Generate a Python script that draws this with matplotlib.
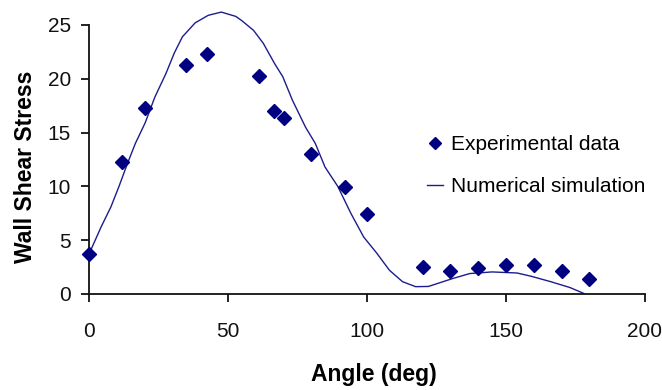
import matplotlib
matplotlib.use("Agg")
import matplotlib.pyplot as plt

plt.rcParams['font.family'] = ['Liberation Sans', 'DejaVu Sans']

# experimental points (angle in deg, wall shear stress)
exp_angle = [0, 12, 20, 35, 42.5, 61, 66.5, 70, 80, 92, 100, 120, 130, 140, 150, 160, 170, 180]
exp_wss = [3.7, 12.3, 17.3, 21.3, 22.3, 20.3, 17.0, 16.4, 13.0, 9.9, 7.4, 2.5, 2.1, 2.4, 2.7, 2.7, 2.1, 1.4]

# numerical simulation curve
sim_angle = [0, 4.4, 7.9, 10.8, 13.8, 16.7, 20.2, 23.7, 27.7, 30.7, 33.6, 38.2, 42.9, 47.6,
             52.8, 55, 59.2, 62.7, 66.8, 69.7, 73.2, 77.9, 81.4, 84.9, 89.5, 94.2, 98.8,
             103.5, 108.1, 112.8, 117.5, 122.1, 131, 137, 145, 154, 159, 166, 173, 178]
sim_wss = [3.7, 6.25, 8.1, 10.0, 12.1, 14.0, 15.9, 18.3, 20.5, 22.4, 23.9, 25.2, 25.9, 26.2,
           25.8, 25.4, 24.5, 23.3, 21.4, 20.2, 18.0, 15.5, 14.0, 11.8, 10.0, 7.5, 5.3,
           3.8, 2.2, 1.14, 0.68, 0.7, 1.45, 1.9, 2.05, 1.95, 1.65, 1.15, 0.6, 0.05]

x_ticks = [0, 50, 100, 150, 200]
y_ticks = [0, 5, 10, 15, 20, 25]

navy = '#000080'

fig = plt.figure(figsize=(6.62, 3.90), dpi=100)
ax = fig.add_axes([0.1344, 0.2462, 0.8399, 0.6897])

ax.plot(exp_angle, exp_wss, linestyle='none', marker='D', markersize=6.8,
        color=navy, label='Experimental data', clip_on=False, zorder=3)
ax.plot(sim_angle, sim_wss, color='#1c1c8e', linewidth=1.0,
        label='Numerical simulation', clip_on=False, zorder=2)

ax.set_xlim(0, 200)
ax.set_ylim(0, 25)
ax.set_xticks(x_ticks)
ax.set_yticks(y_ticks)

for side in ['top', 'right']:
    ax.spines[side].set_visible(False)
for side in ['left', 'bottom']:
    ax.spines[side].set_linewidth(1.3)
    ax.spines[side].set_color('#111111')

ax.tick_params(axis='both', direction='out', length=6, width=1.3, labelsize=15, colors='#111111')
ax.tick_params(axis='x', pad=14)
ax.tick_params(axis='y', pad=7)

ax.set_xlabel('Angle (deg)', fontsize=16.5, fontweight='bold', labelpad=17)
ax.set_ylabel('Wall Shear Stress', fontsize=16.5, fontweight='bold')
ax.xaxis.set_label_coords(0.513, -0.255)
ax.yaxis.set_label_coords(-0.094, 0.472)

ax.legend(loc='upper left', bbox_to_anchor=(0.645, 0.654), bbox_transform=fig.transFigure,
          frameon=False, fontsize=15, handlelength=0.75, handletextpad=0.4,
          labelspacing=1.1, markerscale=0.85, borderpad=0, borderaxespad=0)

fig.savefig('out.png', dpi=100)
